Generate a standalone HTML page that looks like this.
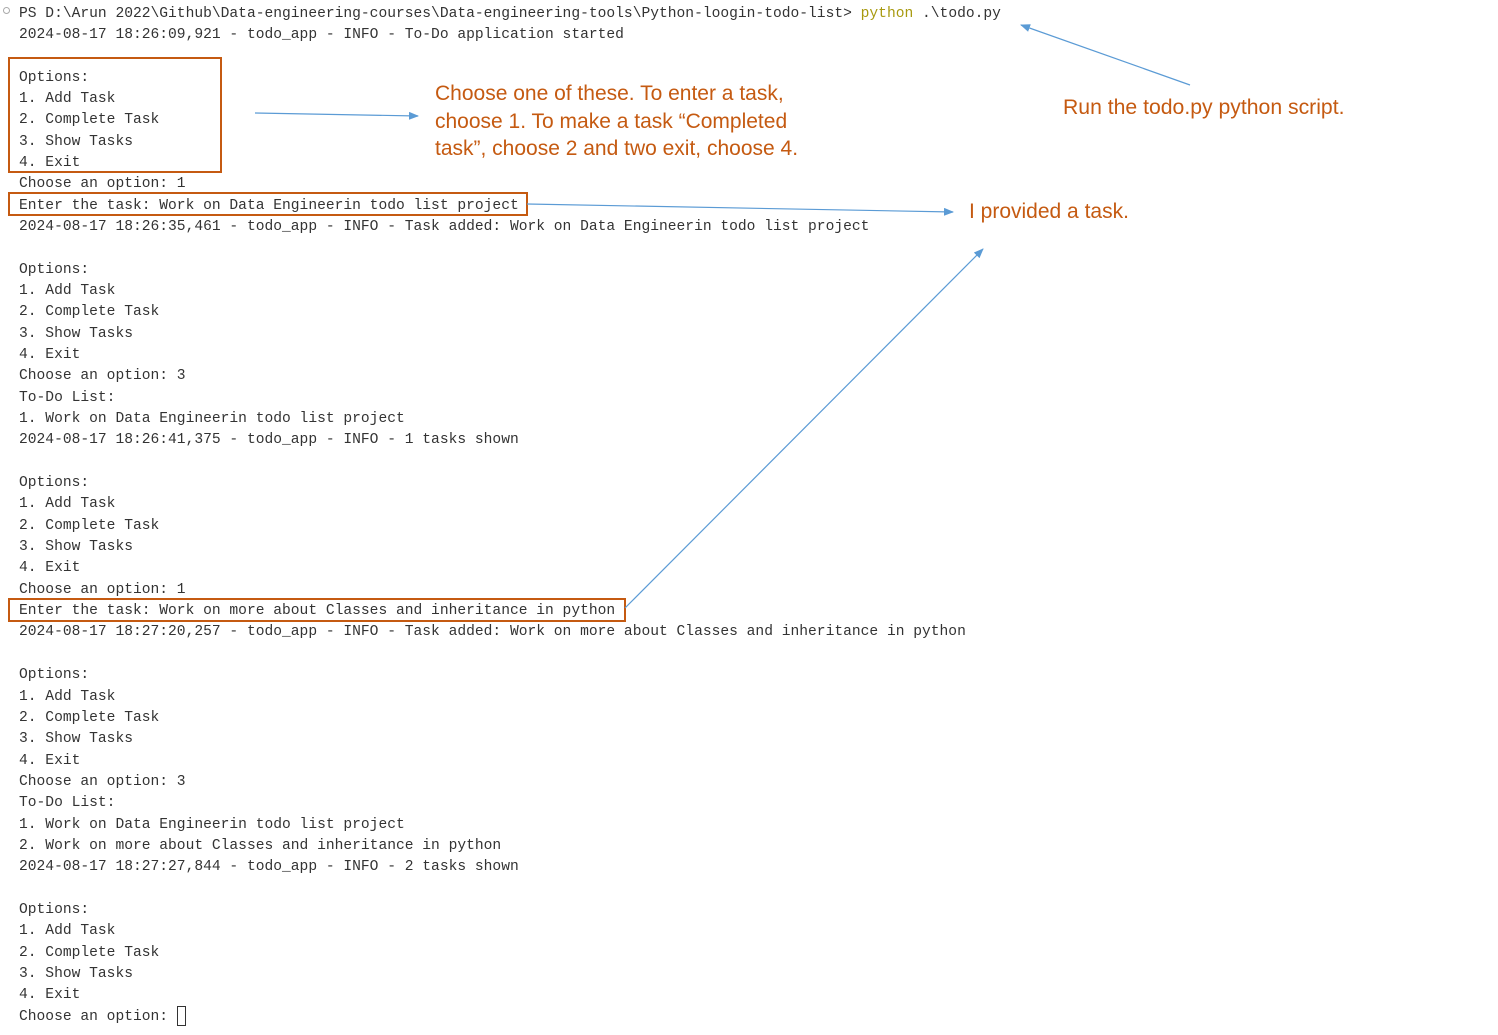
<!DOCTYPE html>
<html><head><meta charset="utf-8"><style>
html,body{margin:0;padding:0;background:#fff;width:1498px;height:1035px;overflow:hidden;position:relative}
pre{position:absolute;left:19px;top:3.5px;margin:0;font-family:"Liberation Mono",monospace;font-size:14.62px;line-height:21.34px;color:#333;}
.py{color:#a89a10}
.box{position:absolute;border:2px solid #c55a11;box-sizing:border-box}
.lbl{position:absolute;font-family:"Liberation Sans",sans-serif;color:#c55a11;white-space:nowrap}
.cur{position:absolute;left:177px;top:1006px;width:9px;height:20px;border:1px solid #333;box-sizing:border-box}
</style></head><body>
<div style="position:absolute;left:3px;top:7px;width:7px;height:7px;border:1px solid #aaa;border-radius:50%;box-sizing:border-box"></div>
<pre>PS D:\Arun 2022\Github\Data-engineering-courses\Data-engineering-tools\Python-loogin-todo-list&gt; <span class="py">python</span> .\todo.py
2024-08-17 18:26:09,921 - todo_app - INFO - To-Do application started

Options:
1. Add Task
2. Complete Task
3. Show Tasks
4. Exit
Choose an option: 1
Enter the task: Work on Data Engineerin todo list project
2024-08-17 18:26:35,461 - todo_app - INFO - Task added: Work on Data Engineerin todo list project

Options:
1. Add Task
2. Complete Task
3. Show Tasks
4. Exit
Choose an option: 3
To-Do List:
1. Work on Data Engineerin todo list project
2024-08-17 18:26:41,375 - todo_app - INFO - 1 tasks shown

Options:
1. Add Task
2. Complete Task
3. Show Tasks
4. Exit
Choose an option: 1
Enter the task: Work on more about Classes and inheritance in python
2024-08-17 18:27:20,257 - todo_app - INFO - Task added: Work on more about Classes and inheritance in python

Options:
1. Add Task
2. Complete Task
3. Show Tasks
4. Exit
Choose an option: 3
To-Do List:
1. Work on Data Engineerin todo list project
2. Work on more about Classes and inheritance in python
2024-08-17 18:27:27,844 - todo_app - INFO - 2 tasks shown

Options:
1. Add Task
2. Complete Task
3. Show Tasks
4. Exit
Choose an option: </pre>
<div class="cur"></div>
<div class="box" style="left:8px;top:57px;width:214px;height:116px"></div>
<div class="box" style="left:8px;top:192px;width:520px;height:24px"></div>
<div class="box" style="left:8px;top:598px;width:618px;height:24px"></div>
<div class="lbl" style="left:435px;top:80px;font-size:21px;line-height:27.5px">Choose one of these. To enter a task,<br>choose 1. To make a task “Completed<br>task”, choose 2 and two exit, choose 4.</div>
<div class="lbl" style="left:1063px;top:96px;font-size:21.2px">Run the todo.py python script.</div>
<div class="lbl" style="left:969px;top:200px;font-size:21px">I provided a task.</div>
<svg width="1498" height="1035" style="position:absolute;left:0;top:0">
<defs><marker id="a" markerWidth="10" markerHeight="8" refX="9" refY="4" orient="auto" markerUnits="userSpaceOnUse"><path d="M0,0 L10,4 L0,8 z" fill="#5b9bd5"/></marker></defs>
<g stroke="#5b9bd5" stroke-width="1.2" fill="none" marker-end="url(#a)">
<line x1="255" y1="113" x2="418" y2="116"/>
<line x1="527" y1="204" x2="953" y2="212"/>
<line x1="625" y1="608" x2="983" y2="249"/>
<line x1="1190" y1="85" x2="1021" y2="25"/>
</g></svg>
</body></html>
